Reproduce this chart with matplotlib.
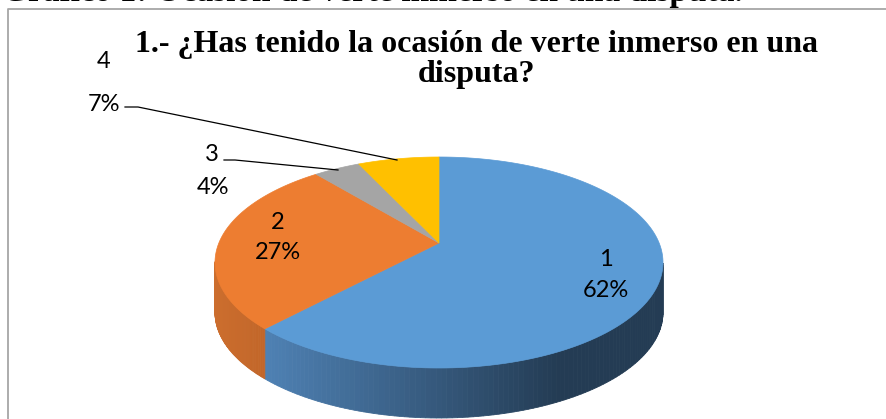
import numpy as np
import matplotlib.pyplot as plt
from matplotlib.patches import Polygon

# data
categories = ["1", "2", "3", "4"]
shares = [62, 27, 4, 7]
percent_labels = ["62%", "27%", "4%", "7%"]
top_colors = ["#5B9BD5", "#ED7D31", "#A5A5A5", "#FFC000"]
title_lines = ["1.- ¿Has tenido la ocasión de verte inmerso en una", "disputa?"]
caption = "Gráfico 1: Ocasión de verte inmerso en una disputa."

W, H = 887, 419
fig = plt.figure(figsize=(W / 100, H / 100), dpi=100)
ax = fig.add_axes([0, 0, 1, 1])
ax.set_xlim(0, W)
ax.set_ylim(H, 0)
ax.axis("off")

# 3D pie geometry (pixels)
cx, cy = 439, 262.5
rx, ry = 224, 105.5
depth = 50
tilt = 0.185  # perspective shift of the apex
ch = 1 / np.sqrt(1 - tilt ** 2)
sh = tilt * ch


def project(theta):
    c, s = np.cos(theta), np.sin(theta)
    d = ch + sh * s
    return cx + rx * c / d, cy - ry * (sh + ch * s) / d


apex = (cx, cy - ry * tilt)

# side shading: (colour at left, colour at right, x range of the fade)
side_colors = {
    0: ((0.31, 0.51, 0.71), (0.14, 0.235, 0.33), 263, 560),
    1: ((0.80, 0.43, 0.18), (0.76, 0.40, 0.16), 215, 265),
    2: ((0.55, 0.55, 0.55), (0.45, 0.45, 0.45), 215, 660),
    3: ((0.80, 0.62, 0.0), (0.70, 0.54, 0.0), 215, 660),
}

total = sum(shares)
bounds = 90 - 360 * np.concatenate([[0], np.cumsum(shares)]) / total
arcs = []
for i in range(len(shares)):
    t = np.radians(np.linspace(bounds[i], bounds[i + 1], 200))
    arcs.append(project(t))

# side walls (front half only)
for i, (xs, ys) in enumerate(arcs):
    c0, c1, xa, xb = side_colors[i]
    for j in range(len(xs) - 1):
        if ys[j] < cy - 1 or ys[j + 1] < cy - 1:
            continue
        f = np.clip((xs[j] - xa) / (xb - xa), 0, 1)
        col = tuple(a + (b - a) * f for a, b in zip(c0, c1))
        quad = [(xs[j], ys[j]), (xs[j + 1], ys[j + 1]),
                (xs[j + 1], ys[j + 1] + depth), (xs[j], ys[j] + depth)]
        ax.add_patch(Polygon(quad, closed=True, facecolor=col,
                             edgecolor=col, linewidth=0.6))

# top faces
for i, (xs, ys) in enumerate(arcs):
    pts = [apex] + list(zip(xs, ys))
    ax.add_patch(Polygon(pts, closed=True, facecolor=top_colors[i],
                         edgecolor=top_colors[i], linewidth=0.5))

# labels
font = dict(family="Lato", fontsize=17, color="black", ha="center", va="center")
label_pos = [((606, 259), (606, 290)), ((278, 222), (278, 252)),
             ((212, 154), (213, 187)), ((104, 62), (104, 104))]
for i, ((x1, y1), (x2, y2)) in enumerate(label_pos):
    ax.text(x1, y1, categories[i], **font)
    ax.text(x2, y2, percent_labels[i], **font)

# leader lines for the small slices
ax.plot([224, 235, 338], [160, 160, 170], color="black", linewidth=0.9)
ax.plot([125, 138, 397], [107, 107, 160], color="black", linewidth=0.9)

# title, two lines
for line, y in zip(title_lines, [52, 82]):
    ax.text(477, y, line, family="Liberation Serif", fontweight="bold",
            fontsize=23, ha="center", va="baseline")

# frame of the chart area
ax.plot([8, 8, W], [H, 9, 9], color="#A6A6A6", linewidth=1.3,
        solid_capstyle="butt")

# caption above the chart, mostly cut off
ax.text(2, 0.8, caption, family="Liberation Serif", fontweight="bold",
        fontsize=24, ha="left", va="baseline", clip_on=False)

fig.savefig("out.png", dpi=100)
